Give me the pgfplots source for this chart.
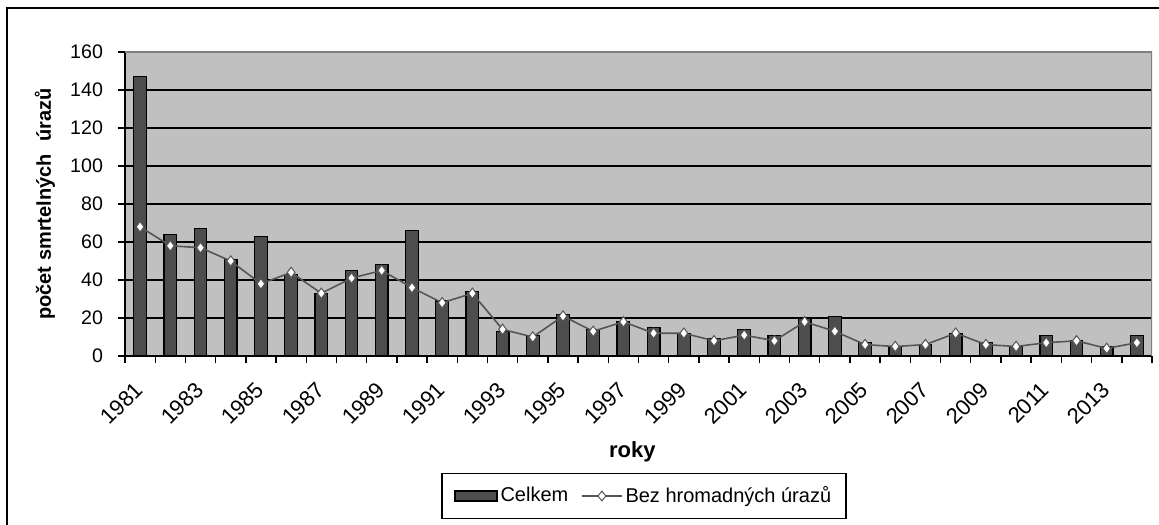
\documentclass[border=0pt]{standalone}
\usepackage{pgfplots}
\pgfplotsset{compat=1.18}
\usepackage{fontspec}
\setmainfont{Liberation Sans}
\definecolor{bg}{HTML}{C0C0C0}
\definecolor{barc}{HTML}{4D4D4D}
\definecolor{linec}{HTML}{555555}
\begin{document}
\begin{tikzpicture}
\path[use as bounding box] (-62.5pt,-84pt) rectangle (517pt,178pt);
\draw[line width=1.2pt] (-59pt,-90pt) -- (-59pt,174pt) -- (530pt,174pt);
\begin{axis}[
  at={(0pt,0pt)}, anchor=south west,
  scale only axis, width=513.5pt, height=152pt,
  xmin=-0.5, xmax=33.5, ymin=0, ymax=160,
  axis lines*=left,
  axis line style={black, line width=0.8pt},
  axis background/.style={fill=bg},
  ytick={0,20,...,160},
  ymajorgrids, grid style={black, line width=0.75pt},
  tick align=outside,
  major tick length=3.5pt,
  tick style={black, line width=0.7pt},
  xtick={-0.5,0.5,...,33.5},
  xticklabels={},
  extra x ticks={0,2,...,32},
  extra x tick labels={1981,1983,1985,1987,1989,1991,1993,1995,1997,1999,2001,2003,2005,2007,2009,2011,2013},
  extra x tick style={major tick length=0pt},
  /pgf/number format/assume math mode=true,
  yticklabel style={font=\fontsize{9.8}{11}\selectfont, xshift=-4pt},
  xticklabel style={font=\fontsize{11}{13}\selectfont, xshift=2pt, yshift=-12.5pt, rotate=45, anchor=east},
  xlabel={\textbf{roky}},
  ylabel={\textbf{počet smrtelných\hspace{0.35em} úrazů}},
  every axis x label/.style={at={(axis description cs:0.494,0)}, anchor=center, yshift=-48pt, font=\fontsize{11}{13}\selectfont},
  every axis y label/.style={at={(axis description cs:-0.078,0.5)}, anchor=center, rotate=90, font=\fontsize{10}{12}\selectfont},
  legend columns=2,
  legend style={at={(axis description cs:0.5054,0)}, anchor=center, yshift=-70pt,
    draw=black, line width=0.8pt, inner xsep=6pt, inner ysep=5pt,
    font=\fontsize{10}{12}\selectfont,
    nodes={inner sep=1.5pt},
    /tikz/every even column/.append style={column sep=5pt}},
]
\addplot[ybar, bar width=0.42, fill=barc, draw=black, line width=0.6pt,
  legend image code/.code={\draw[fill=barc, draw=black, line width=0.8pt] (0pt,-2.5pt) rectangle (21pt,2.5pt);}]
coordinates {
(0,147) (1,64) (2,67) (3,51) (4,63) (5,43) (6,33) (7,45) (8,48) (9,66)
(10,29) (11,34) (12,13) (13,11) (14,22) (15,14) (16,18) (17,15) (18,12) (19,9)
(20,14) (21,11) (22,20) (23,21) (24,7) (25,5) (26,6) (27,12) (28,7) (29,5)
(30,11) (31,8) (32,5) (33,11)
};
\addlegendentry{Celkem}
\addplot[linec, line width=0.8pt, mark=diamond*, mark size=2.6pt,
  mark options={fill=white, draw=linec, line width=0.5pt},
  legend image code/.code={\draw[linec, line width=0.6pt] (0pt,0pt) -- (20pt,0pt);
    \draw[linec, fill=white, line width=0.5pt] (10pt,0pt) +(-2pt,0pt) -- +(0pt,2.4pt) -- +(2pt,0pt) -- +(0pt,-2.4pt) -- cycle;}]
coordinates {
(0,68) (1,58) (2,57) (3,50) (4,38) (5,44) (6,33) (7,41) (8,45) (9,36)
(10,28) (11,33) (12,14) (13,10) (14,21) (15,13) (16,18) (17,12) (18,12) (19,8)
(20,11) (21,8) (22,18) (23,13) (24,6) (25,5) (26,6) (27,12) (28,6) (29,5)
(30,7) (31,8) (32,4) (33,7)
};
\addlegendentry{Bez hromadných úrazů}
\draw[gray, line width=0.6pt] (rel axis cs:0,1) -- (rel axis cs:1,1) -- (rel axis cs:1,0);
\end{axis}
\end{tikzpicture}
\end{document}
